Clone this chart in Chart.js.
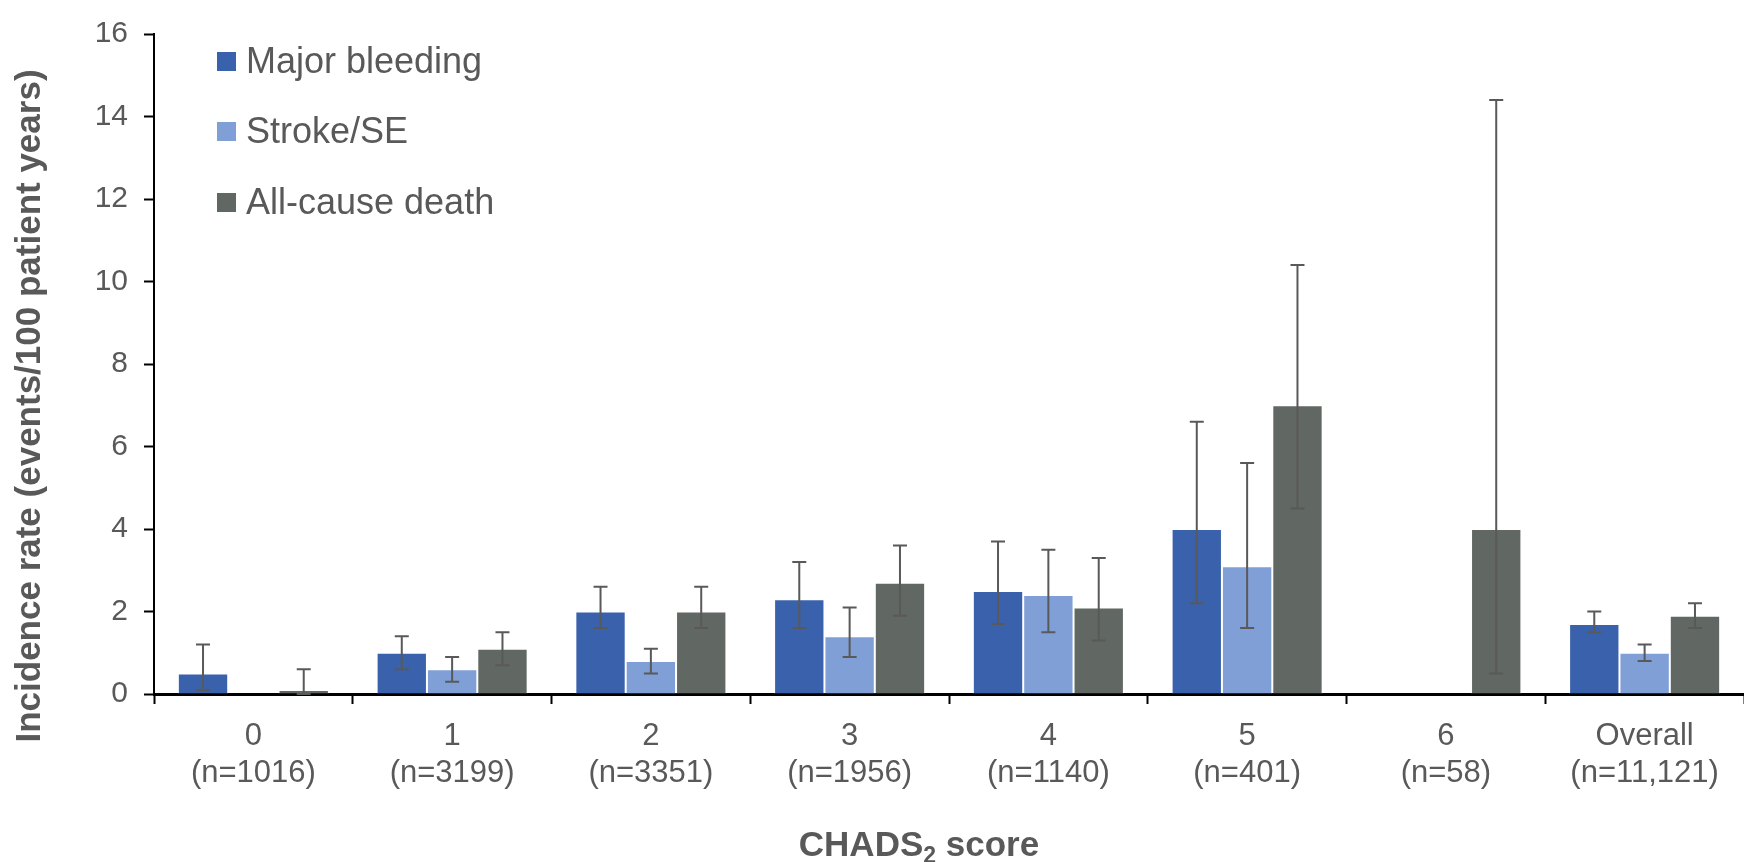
<!DOCTYPE html>
<html>
<head>
<meta charset="utf-8">
<script src="https://cdn.jsdelivr.net/npm/chart.js@4.4.0/dist/chart.umd.min.js"></script>
<style>
  html, body { margin: 0; padding: 0; background: #fff; }
  #wrap { width: 1744px; height: 862px; position: relative; }
</style>
</head>
<body>
<div id="wrap"><canvas id="myChart"></canvas></div>
<script>
// categories (two-line tick labels)
const categories = [
  ['0', '(n=1016)'],
  ['1', '(n=3199)'],
  ['2', '(n=3351)'],
  ['3', '(n=1956)'],
  ['4', '(n=1140)'],
  ['5', '(n=401)'],
  ['6', '(n=58)'],
  ['Overall', '(n=11,121)'],
];
const seriesNames = ['Major bleeding', 'Stroke/SE', 'All-cause death'];

// incidence rates with 95% CI bounds
const majorBleeding = [0.5, 1.0, 2.0, 2.3, 2.5, 4.0, null, 1.7];
const majorBleedingLow = [0.1, 0.6, 1.6, 1.6, 1.7, 2.2, null, 1.5];
const majorBleedingHigh = [1.2, 1.4, 2.6, 3.2, 3.7, 6.6, null, 2.0];

const strokeSE = [null, 0.6, 0.8, 1.4, 2.4, 3.1, null, 1.0];
const strokeSELow = [null, 0.3, 0.5, 0.9, 1.5, 1.6, null, 0.8];
const strokeSEHigh = [null, 0.9, 1.1, 2.1, 3.5, 5.6, null, 1.2];

const allCauseDeath = [0.1, 1.1, 2.0, 2.7, 2.1, 7.0, 4.0, 1.9];
const allCauseDeathLow = [0.0, 0.7, 1.6, 1.9, 1.3, 4.5, 0.5, 1.6];
const allCauseDeathHigh = [0.6, 1.5, 2.6, 3.6, 3.3, 10.4, 14.4, 2.2];

const yMin = 0;
const yMax = 16;
const yStep = 2;

const yTitle = 'Incidence rate (events/100 patient years)';

const colors = ['#3a62ac', '#809fd6', '#616762'];
const textColor = '#595959';
const fontFamily = '"Liberation Sans", Arial, sans-serif';

const errorLows = [majorBleedingLow, strokeSELow, allCauseDeathLow];
const errorHighs = [majorBleedingHigh, strokeSEHigh, allCauseDeathHigh];

// draws the CI whiskers on top of each bar
const errorBars = {
  id: 'errorBars',
  afterDatasetsDraw(chart) {
    const { ctx } = chart;
    const yScale = chart.scales.y;
    ctx.save();
    ctx.strokeStyle = '#595959';
    ctx.lineWidth = 2;
    chart.data.datasets.forEach((ds, i) => {
      const meta = chart.getDatasetMeta(i);
      meta.data.forEach((bar, j) => {
        if (ds.data[j] == null) return;
        const lo = yScale.getPixelForValue(errorLows[i][j]);
        const hi = yScale.getPixelForValue(errorHighs[i][j]);
        const cap = 7;
        ctx.beginPath();
        ctx.moveTo(bar.x, lo);
        ctx.lineTo(bar.x, hi);
        ctx.moveTo(bar.x - cap, hi);
        ctx.lineTo(bar.x + cap, hi);
        ctx.moveTo(bar.x - cap, lo);
        ctx.lineTo(bar.x + cap, lo);
        ctx.stroke();
      });
    });
    ctx.restore();
  },
};

// vertical legend inside the plot, top left
const sideLegend = {
  id: 'sideLegend',
  afterDraw(chart) {
    const { ctx } = chart;
    const x0 = 217;
    const rows = [62, 132, 203];
    ctx.save();
    ctx.font = `36px ${fontFamily}`;
    ctx.textBaseline = 'middle';
    ctx.textAlign = 'left';
    chart.data.datasets.forEach((ds, i) => {
      ctx.fillStyle = ds.backgroundColor;
      ctx.fillRect(x0, rows[i] - 10, 19, 19);
      ctx.fillStyle = textColor;
      ctx.fillText(ds.label, x0 + 29, rows[i] + 1);
    });
    ctx.restore();
  },
};

// axis titles: x one has a subscript 2, y one sits a bit low like the original
const axisTitles = {
  id: 'axisTitles',
  afterDraw(chart) {
    const { ctx } = chart;
    const big = `bold 35px ${fontFamily}`;
    const small = `bold 23px ${fontFamily}`;
    ctx.save();
    ctx.fillStyle = textColor;
    ctx.textBaseline = 'alphabetic';
    ctx.font = big;
    const w1 = ctx.measureText('CHADS').width;
    const w3 = ctx.measureText(' score').width;
    ctx.font = small;
    const w2 = ctx.measureText('2').width;
    let x = 919 - (w1 + w2 + w3) / 2;
    const base = 856;
    ctx.font = big;
    ctx.fillText('CHADS', x, base);
    x += w1;
    ctx.font = small;
    ctx.fillText('2', x, base + 7);
    x += w2;
    ctx.font = big;
    ctx.fillText(' score', x, base);

    ctx.translate(40, 406);
    ctx.rotate(-Math.PI / 2);
    ctx.textAlign = 'center';
    ctx.fillText(yTitle, 0, 0);
    ctx.restore();
  },
};

const $chart = document.querySelector('#myChart');

const data = {
  labels: categories,
  datasets: [
    { label: seriesNames[0], data: majorBleeding, backgroundColor: colors[0] },
    { label: seriesNames[1], data: strokeSE, backgroundColor: colors[1] },
    { label: seriesNames[2], data: allCauseDeath, backgroundColor: colors[2] },
  ].map((d) => ({
    ...d,
    borderColor: 'rgba(255,255,255,0.55)',
    borderWidth: 1,
    categoryPercentage: 0.76,
    barPercentage: 1.0,
  })),
};

const config = {
  type: 'bar',
  data,
  options: {
    responsive: true,
    maintainAspectRatio: false,
    animation: false,
    layout: { padding: { top: 24, right: 0, bottom: 0, left: 0 } },
    plugins: {
      legend: { display: false },
      tooltip: { enabled: false },
    },
    scales: {
      x: {
        grid: {
          display: true,
          drawOnChartArea: false,
          drawTicks: true,
          tickLength: 10,
          tickWidth: 2,
          tickColor: '#000',
          offset: true,
        },
        border: { color: '#000', width: 3 },
        ticks: {
          color: textColor,
          font: { family: fontFamily, size: 31, lineHeight: 1.19 },
          padding: 14,
          maxRotation: 0,
          autoSkip: false,
        },
        afterFit(scale) { scale.height = 168; },
      },
      y: {
        min: yMin,
        max: yMax,
        ticks: {
          stepSize: yStep,
          color: textColor,
          font: { family: fontFamily, size: 30 },
          padding: 16,
        },
        grid: {
          display: true,
          drawOnChartArea: false,
          drawTicks: true,
          tickLength: 10,
          tickWidth: 2,
          tickColor: '#000',
        },
        border: { color: '#000', width: 2 },
        afterFit(scale) { scale.width = 154; },
      },
    },
  },
  plugins: [errorBars, sideLegend, axisTitles],
};

const myChart = new Chart($chart, config);
</script>
</body>
</html>
